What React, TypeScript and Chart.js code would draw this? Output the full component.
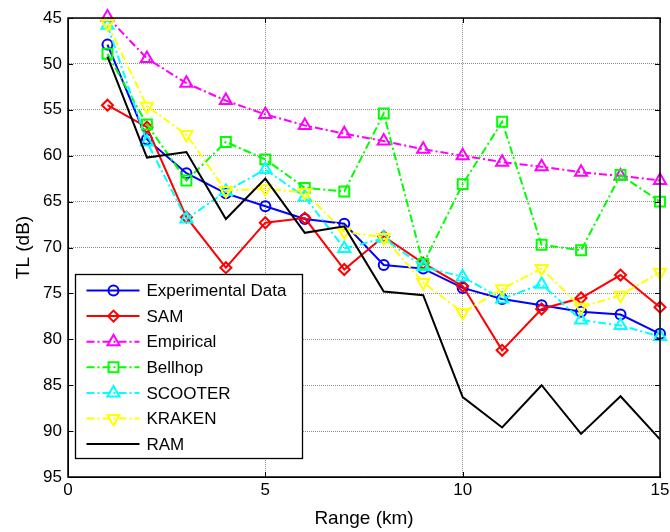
import React, { useEffect, useRef } from 'react';
import { Chart, registerables } from 'chart.js';
import { drawPoint } from 'chart.js/helpers';

Chart.register(...registerables);

const ranges = [1, 2, 3, 4, 5, 6, 7, 8, 9, 10, 11, 12, 13, 14, 15];
const experimental = [47.9, 58.2, 61.9, 64.1, 65.5, 66.9, 67.4, 71.9, 72.3, 74.4, 75.6, 76.3, 77.0, 77.3, 79.4];
const sam = [54.5, 56.9, 66.7, 72.2, 67.3, 66.8, 72.4, 68.8, 71.7, 74.2, 81.2, 76.7, 75.5, 73.0, 76.5];
const empirical = [44.9, 49.4, 52.1, 54.0, 55.5, 56.7, 57.6, 58.4, 59.3, 60.0, 60.7, 61.2, 61.8, 62.2, 62.7];
const bellhop = [48.9, 56.6, 62.7, 58.5, 60.4, 63.5, 63.9, 55.4, 71.8, 63.1, 56.3, 69.7, 70.3, 62.1, 65.0];
const scooter = [45.8, 58.5, 66.9, 63.9, 61.5, 64.5, 70.1, 69.0, 72.1, 73.2, 75.6, 74.0, 77.9, 78.5, 79.7];
const kraken = [45.6, 54.6, 57.7, 63.8, 63.6, 64.0, 68.3, 68.9, 73.8, 77.1, 74.5, 72.3, 76.5, 75.2, 72.7];
const ram = [49.2, 60.2, 59.6, 66.9, 62.5, 68.4, 67.7, 74.8, 75.2, 86.3, 89.6, 85.0, 90.3, 86.2, 90.9];

const seriesNames = ['Experimental Data', 'SAM', 'Empirical', 'Bellhop', 'SCOOTER', 'KRAKEN', 'RAM'];
const xTicks = [0, 5, 10, 15];
const yTicks = [45, 50, 55, 60, 65, 70, 75, 80, 85, 90, 95];

const FONT = 'Arial, "Liberation Sans", sans-serif';
const DASHDOT = [8, 3, 2, 3];

const styles = [
  { color: '#0000ff', dash: [] as number[], point: 'circle', radius: 5, rotation: 0 },
  { color: '#ff0000', dash: [] as number[], point: 'rectRot', radius: 5.5, rotation: 0 },
  { color: '#ff00ff', dash: DASHDOT, point: 'triangle', radius: 7, rotation: 0 },
  { color: '#00ff00', dash: DASHDOT, point: 'rect', radius: 7, rotation: 0 },
  { color: '#00ffff', dash: DASHDOT, point: 'triangle', radius: 7, rotation: 0 },
  { color: '#ffff00', dash: DASHDOT, point: 'triangle', radius: 7, rotation: 180 },
  { color: '#000000', dash: [] as number[], point: false as any, radius: 0, rotation: 0 },
];

const seriesValues = [experimental, sam, empirical, bellhop, scooter, kraken, ram];

const framePlugin = {
  id: 'matlabFrame',
  afterDraw(chart: any) {
    const ctx = chart.ctx as CanvasRenderingContext2D;
    const ca = chart.chartArea;
    const xs = chart.scales.x;
    const ys = chart.scales.y;
    ctx.save();
    ctx.strokeStyle = '#000';
    ctx.lineWidth = 1.5;
    ctx.setLineDash([]);
    ctx.beginPath();
    ctx.rect(Math.round(ca.left), Math.round(ca.top), Math.round(ca.right - ca.left), Math.round(ca.bottom - ca.top));
    ctx.stroke();
    const tl = 5;
    ctx.lineWidth = 1;
    ctx.beginPath();
    xTicks.forEach((v) => {
      const px = Math.round(xs.getPixelForValue(v)) + 0.5;
      ctx.moveTo(px, ca.bottom);
      ctx.lineTo(px, ca.bottom - tl);
      ctx.moveTo(px, ca.top);
      ctx.lineTo(px, ca.top + tl);
    });
    yTicks.forEach((v) => {
      const py = Math.round(ys.getPixelForValue(v)) + 0.5;
      ctx.moveTo(ca.left, py);
      ctx.lineTo(ca.left + tl, py);
      ctx.moveTo(ca.right, py);
      ctx.lineTo(ca.right - tl, py);
    });
    ctx.stroke();

    // legend
    const bx = Math.round(ca.left) + 7.5;
    const by = Math.round(ca.top) + 256.5;
    const bw = 227;
    const bh = 184;
    ctx.fillStyle = '#fff';
    ctx.fillRect(bx, by, bw, bh);
    ctx.strokeStyle = '#000';
    ctx.lineWidth = 1.3;
    ctx.strokeRect(bx, by, bw, bh);
    ctx.font = `17px ${FONT}`;
    ctx.textBaseline = 'middle';
    ctx.textAlign = 'left';
    seriesNames.forEach((name, i) => {
      const st = styles[i];
      const y = by + 16 + i * 25.6;
      ctx.strokeStyle = st.color;
      ctx.lineWidth = 2;
      ctx.setLineDash(st.dash);
      ctx.beginPath();
      ctx.moveTo(bx + 11, y);
      ctx.lineTo(bx + 64, y);
      ctx.stroke();
      ctx.setLineDash([]);
      if (st.point) {
        ctx.fillStyle = 'rgba(0,0,0,0)';
        ctx.strokeStyle = st.color;
        ctx.lineWidth = 2;
        drawPoint(ctx, { pointStyle: st.point, rotation: st.rotation, radius: st.radius, borderWidth: 2 } as any, bx + 38, y);
      }
      ctx.fillStyle = '#000';
      ctx.fillText(name, bx + 71, y + 1);
    });
    ctx.restore();
  },
};

export default function App() {
  const canvasRef = useRef<HTMLCanvasElement | null>(null);

  useEffect(() => {
    if (!canvasRef.current) return;
    const datasets = seriesNames.map((name, i) => {
      const st = styles[i];
      return {
        label: name,
        data: ranges.map((r, j) => ({ x: r, y: seriesValues[i][j] })),
        borderColor: st.color,
        backgroundColor: 'rgba(0,0,0,0)',
        borderWidth: 2,
        borderDash: st.dash,
        pointStyle: st.point,
        pointRadius: st.radius,
        pointHoverRadius: st.radius,
        pointRotation: st.rotation,
        pointBorderColor: st.color,
        pointBackgroundColor: 'rgba(0,0,0,0)',
        pointBorderWidth: 2,
        tension: 0,
        fill: false,
        clip: false as any,
        order: 10 - i,
      };
    });

    const zeroPad = (s: any) => {
      s.paddingLeft = 0;
      s.paddingRight = 0;
      s.paddingTop = 0;
      s.paddingBottom = 0;
    };

    const chart = new Chart(canvasRef.current, {
      type: 'line',
      data: { datasets: datasets as any },
      options: {
        animation: false,
        responsive: false,
        devicePixelRatio: 1,
        layout: { padding: { left: 0, right: 10, top: 18, bottom: 0 } },
        plugins: {
          legend: { display: false },
          tooltip: { enabled: false },
          title: { display: false },
        },
        scales: {
          x: {
            type: 'linear',
            min: 0,
            max: 15,
            afterFit: (s: any) => { s.height = 55; zeroPad(s); },
            afterBuildTicks: (s: any) => { s.ticks = xTicks.map((v) => ({ value: v })); },
            ticks: { color: '#000', font: { family: FONT, size: 17 }, padding: 3, maxRotation: 0 },
            grid: { color: '#8c8c8c', lineWidth: 1, drawTicks: false },
            border: { display: true, color: '#000', width: 1, dash: [1, 1] },
            title: {
              display: true,
              text: 'Range (km)',
              color: '#000',
              font: { family: FONT, size: 19 },
              padding: { top: 0, bottom: 2 },
            },
          },
          y: {
            type: 'linear',
            reverse: true,
            min: 45,
            max: 95,
            afterFit: (s: any) => { s.width = 68; zeroPad(s); },
            afterBuildTicks: (s: any) => { s.ticks = yTicks.map((v) => ({ value: v })); },
            ticks: { color: '#000', font: { family: FONT, size: 17 }, padding: 6 },
            grid: { color: '#8c8c8c', lineWidth: 1, drawTicks: false },
            border: { display: true, color: '#000', width: 1, dash: [1, 1] },
            title: {
              display: true,
              text: 'TL (dB)',
              color: '#000',
              font: { family: FONT, size: 19 },
              padding: { top: 12, bottom: 0 },
            },
          },
        },
      },
      plugins: [framePlugin],
    });
    return () => chart.destroy();
  }, []);

  return (
    <div style={{ position: 'absolute', left: 0, top: 0, width: 670, height: 532, background: '#fff' }}>
      <canvas ref={canvasRef} width={670} height={532} style={{ display: 'block' }} />
    </div>
  );
}
